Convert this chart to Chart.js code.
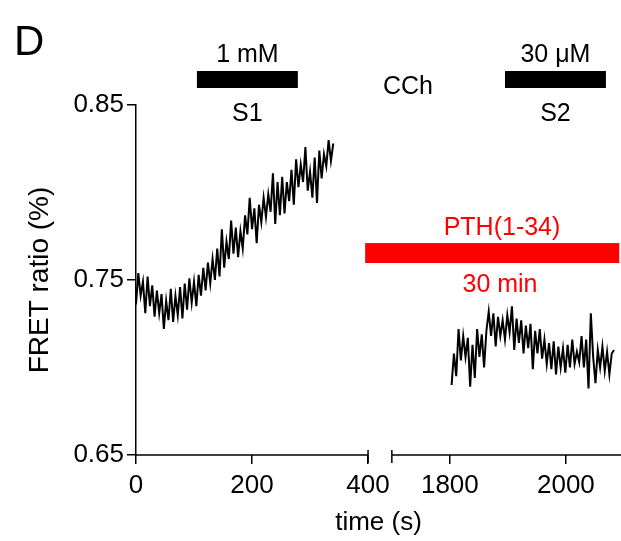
<!DOCTYPE html>
<html>
<head>
<meta charset="utf-8">
<script src="https://cdn.jsdelivr.net/npm/chart.js@4"></script>
<style>
  html, body { margin: 0; padding: 0; background: #fff; }
  #wrap { width: 621px; height: 541px; }
</style>
</head>
<body>
<div id="wrap"><canvas id="fretChart" width="621" height="541"></canvas></div>
<script>
// FRET ratio trace, sampled every 4 s
var trace1Start = 0;
var trace1Step = 4;
var trace1Values = [
  0.736, 0.754, 0.741, 0.749, 0.731, 0.752, 0.735, 0.747, 0.729, 0.744,
  0.731, 0.742, 0.722, 0.738, 0.727, 0.745, 0.726, 0.741, 0.730, 0.746,
  0.728, 0.748, 0.733, 0.751, 0.737, 0.749, 0.735, 0.753, 0.741, 0.757,
  0.744, 0.760, 0.748, 0.762, 0.750, 0.768, 0.752, 0.779, 0.757, 0.772,
  0.762, 0.784, 0.765, 0.780, 0.763, 0.778, 0.768, 0.787, 0.776, 0.797,
  0.779, 0.791, 0.771, 0.793, 0.783, 0.797, 0.786, 0.799, 0.789, 0.811,
  0.782, 0.806, 0.787, 0.809, 0.788, 0.806, 0.795, 0.813, 0.793, 0.819,
  0.803, 0.816, 0.806, 0.826, 0.801, 0.812, 0.797, 0.820, 0.794, 0.824,
  0.808, 0.822, 0.815, 0.830, 0.818, 0.828
];

var trace2Start = 1803;
var trace2Step = 4;
var trace2Values = [
  0.690, 0.708, 0.695, 0.722, 0.704, 0.718, 0.706, 0.717, 0.689, 0.713,
  0.694, 0.722, 0.706, 0.719, 0.700, 0.721, 0.732, 0.718, 0.731, 0.712,
  0.729, 0.718, 0.727, 0.716, 0.730, 0.720, 0.735, 0.710, 0.728, 0.714,
  0.727, 0.708, 0.724, 0.711, 0.725, 0.699, 0.721, 0.708, 0.722, 0.705,
  0.716, 0.702, 0.714, 0.699, 0.715, 0.696, 0.712, 0.700, 0.711, 0.697,
  0.713, 0.700, 0.716, 0.702, 0.709, 0.703, 0.718, 0.700, 0.716, 0.688,
  0.731, 0.706, 0.691, 0.710, 0.700, 0.712, 0.698, 0.709, 0.696, 0.708,
  0.710
];

var xTickTimes = [0, 200, 400, 1800, 2000];
var yTicks = [0.65, 0.75, 0.85];

// broken time axis: 0-400 s, then 1700 s onwards
var breakEnd = 400;
var breakResume = 1700;
var breakGap = 41;
var axisMax = 836;

function toAxis(t) {
  return t <= breakEnd ? t : t - breakResume + breakEnd + breakGap;
}
function fromAxis(u) {
  return u <= breakEnd ? u : u + breakResume - breakEnd - breakGap;
}

function makePoints(start, step, values) {
  return values.map(function (v, i) {
    return { x: toAxis(start + i * step), y: v };
  });
}

var FONT = "'Liberation Sans', Arial, sans-serif";

// treatment bars (times in s)
var cchBars = [
  { from: 105, to: 279, top: '1 mM', bottom: 'S1' },
  { from: 1895, to: 2069, top: '30 \u03BCM', bottom: 'S2' }
];
var pthBar = { from: 395, to: 2092, low: 0.7597, high: 0.7711 };

var annotations = {
  id: 'annotations',
  afterDraw: function (chart) {
    var c = chart.ctx;
    var xs = chart.scales.x;
    var ys = chart.scales.y;
    var area = chart.chartArea;
    c.save();

    // x axis line in two pieces
    c.strokeStyle = '#000';
    c.lineWidth = 1.5;
    var y0 = area.bottom;
    var a = xs.getPixelForValue(0), b = xs.getPixelForValue(breakEnd);
    var d = xs.getPixelForValue(breakEnd + breakGap);
    c.beginPath();
    c.moveTo(a, y0); c.lineTo(b, y0);
    c.moveTo(d, y0); c.lineTo(area.right, y0);
    c.moveTo(b, y0 - 5); c.lineTo(b, y0 + 8);
    c.moveTo(d, y0 - 5); c.lineTo(d, y0 + 8);
    c.stroke();

    c.fillStyle = '#000';
    c.textAlign = 'left';
    c.textBaseline = 'alphabetic';
    c.font = '42px ' + FONT;
    c.fillText('D', 14, 55);

    c.font = '25px ' + FONT;
    c.textAlign = 'center';
    cchBars.forEach(function (bar) {
      var x1 = xs.getPixelForValue(toAxis(bar.from));
      var x2 = xs.getPixelForValue(toAxis(bar.to));
      c.fillRect(x1, 71, x2 - x1, 17);
      c.fillText(bar.top, (x1 + x2) / 2, 62);
      c.fillText(bar.bottom, (x1 + x2) / 2, 121);
    });
    c.fillText('CCh', 408, 94);

    // PTH bar
    var px1 = xs.getPixelForValue(toAxis(pthBar.from));
    var px2 = xs.getPixelForValue(toAxis(pthBar.to));
    var py1 = ys.getPixelForValue(pthBar.high);
    var py2 = ys.getPixelForValue(pthBar.low);
    c.fillStyle = '#ff0000';
    c.fillRect(px1, py1, px2 - px1, py2 - py1);
    c.fillText('PTH(1-34)', 502, 235);
    c.fillText('30 min', 500, 292);
    c.restore();
  }
};

var ctx = document.getElementById('fretChart').getContext('2d');
var fretChart = new Chart(ctx, {
  type: 'line',
  data: {
    datasets: [
      {
        data: makePoints(trace1Start, trace1Step, trace1Values),
        borderColor: '#000',
        borderWidth: 2,
        pointRadius: 0,
        tension: 0
      },
      {
        data: makePoints(trace2Start, trace2Step, trace2Values),
        borderColor: '#000',
        borderWidth: 2,
        pointRadius: 0,
        tension: 0
      }
    ]
  },
  options: {
    responsive: false,
    animation: false,
    layout: { padding: { top: 105, right: 0, left: 0, bottom: 0 } },
    plugins: { legend: { display: false }, tooltip: { enabled: false } },
    scales: {
      x: {
        type: 'linear',
        min: 0,
        max: axisMax,
        afterBuildTicks: function (s) {
          s.ticks = xTickTimes.map(function (t) { return { value: toAxis(t) }; });
        },
        afterFit: function (s) { s.height = 86; },
        border: { display: false },
        grid: { drawOnChartArea: false, drawTicks: true, tickLength: 9, color: '#000', lineWidth: 1.5 },
        ticks: {
          autoSkip: false,
          maxRotation: 0,
          padding: 6,
          color: '#000',
          font: { family: FONT, size: 26 },
          callback: function (v) { return String(Math.round(fromAxis(v))); }
        },
        title: {
          display: true,
          text: 'time (s)',
          color: '#000',
          font: { family: FONT, size: 26 },
          padding: { top: 0, bottom: 3 }
        }
      },
      y: {
        min: 0.65,
        max: 0.85,
        afterBuildTicks: function (s) {
          s.ticks = yTicks.map(function (v) { return { value: v }; });
        },
        afterFit: function (s) { s.width = 136; },
        border: { display: true, color: '#000', width: 1.5 },
        grid: { drawOnChartArea: false, drawTicks: true, tickLength: 9, color: '#000', lineWidth: 1.5 },
        ticks: {
          padding: 3,
          color: '#000',
          font: { family: FONT, size: 26 },
          callback: function (v) { return v.toFixed(2); }
        },
        title: {
          display: true,
          text: 'FRET ratio (%)',
          color: '#000',
          font: { family: FONT, size: 28 },
          padding: { top: 23, bottom: 0 }
        }
      }
    }
  },
  plugins: [annotations]
});
</script>
</body>
</html>
